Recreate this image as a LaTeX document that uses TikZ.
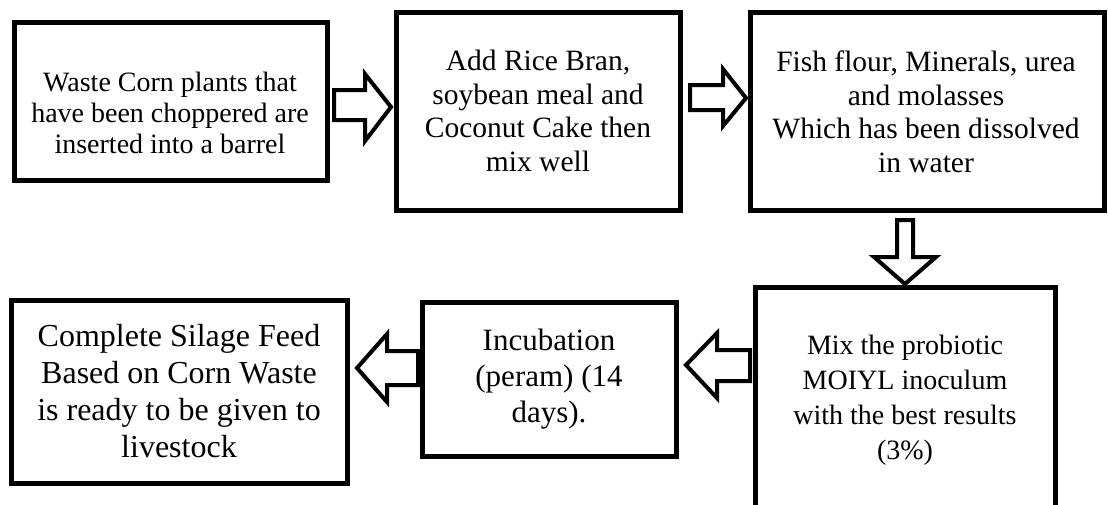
\documentclass[tikz,border=0pt]{standalone}
\usepackage{fontspec}
\setmainfont{Liberation Serif}
\begin{document}
\begin{tikzpicture}[x=1pt,y=-1pt,
  boxstyle/.style={draw=black,line width=5pt,fill=white},
  blockarrow/.style={draw=black,line width=4pt,fill=white,line join=miter},
  txtA/.style={align=center,inner sep=0pt,font=\fontsize{28}{31}\selectfont},
  txtB/.style={align=center,inner sep=0pt,font=\fontsize{29.5}{33.5}\selectfont},
  txtC/.style={align=center,inner sep=0pt,font=\fontsize{28}{35}\selectfont},
  txtD/.style={align=center,inner sep=0pt,font=\fontsize{31}{36}\selectfont},
  txtE/.style={align=center,inner sep=0pt,font=\fontsize{32}{37}\selectfont}]
\useasboundingbox (0,0) rectangle (1108,504);
\fill[white] (0,0) rectangle (1108,504);
\clip (0,0) rectangle (1108,504);
% boxes
\draw[boxstyle] (14,22) rectangle (327,180);
\draw[boxstyle] (396,12) rectangle (680,210);
\draw[boxstyle] (750,12) rectangle (1104,210);
\draw[boxstyle] (755,287) rectangle (1055,530);
\draw[boxstyle] (422,302) rectangle (676,456);
\draw[boxstyle] (11,300) rectangle (347,483);
% texts
\node[txtA] (t1) at (170,113) {Waste Corn plants that\\have been choppered are\\inserted into a barrel};
\node[txtB] (t2) at (538,111) {Add Rice Bran,\\soybean meal and\\Coconut Cake then\\mix well};
\node[txtB] (t3) at (926,112) {Fish flour, Minerals, urea\\and molasses\\Which has been dissolved\\in water};
\node[txtC] (t4) at (905,400) {Mix the probiotic\\MOIYL inoculum\\with the best results\\(3\%)};
\node[txtD] (t5) at (549,379) {Incubation\\(peram) (14\\days).};
\node[txtE] (t6) at (179,391) {Complete Silage Feed\\Based on Corn Waste\\is ready to be given to\\livestock};
% block arrows
\draw[blockarrow] (334,90) -- (365,90) -- (365,74) -- (391,107) -- (365,141) -- (365,120) -- (334,120) -- cycle;
\draw[blockarrow] (690,85) -- (723,85) -- (723,69) -- (746,98) -- (723,126) -- (723,110) -- (690,110) -- cycle;
\draw[blockarrow] (897,220) -- (913,220) -- (913,257) -- (936,257) -- (905,284) -- (874,257) -- (897,257) -- cycle;
\draw[blockarrow] (750,350) -- (717,350) -- (717,333) -- (686,365) -- (717,398) -- (717,381) -- (750,381) -- cycle;
\draw[blockarrow] (418,351) -- (387,351) -- (387,334) -- (357,368) -- (387,402) -- (387,385) -- (418,385) -- cycle;
\end{tikzpicture}
\end{document}
